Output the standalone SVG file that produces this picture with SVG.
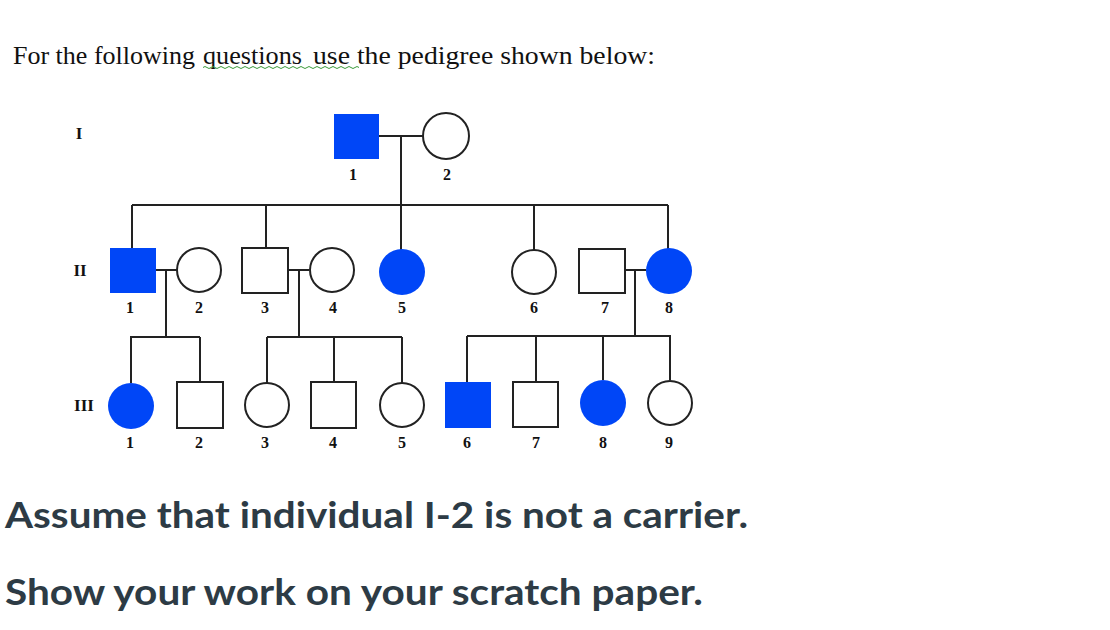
<svg xmlns="http://www.w3.org/2000/svg" width="1110" height="630" viewBox="0 0 1110 630">
<style>
.ln{stroke:#222;stroke-width:2;fill:none}
.aff{fill:#0046f7;stroke:none}
.un{fill:#fff;stroke:#222;stroke-width:2}
.num{font-family:"Liberation Serif",serif;font-weight:bold;font-size:16px;fill:#111;text-anchor:middle}
.gen{font-family:"Liberation Serif",serif;font-weight:bold;font-size:17px;fill:#111;text-anchor:middle}
.t{font-family:"Liberation Serif",serif;font-size:26px;fill:#111}
.q{font-family:Lato,"Liberation Sans",sans-serif;font-weight:bold;font-size:37px;fill:#2d3b45}
</style>
<rect width="1110" height="630" fill="#fff"/>
<text class="t" x="13" y="64" textLength="182" lengthAdjust="spacingAndGlyphs">For the following</text>
<text class="t" x="203" y="64" textLength="99" lengthAdjust="spacingAndGlyphs">questions</text>
<text class="t" x="313" y="64" textLength="342" lengthAdjust="spacingAndGlyphs">use the pedigree shown below:</text>
<path d="M203 67.5 q2 -2 4 0 t4 0 t4 0 t4 0 t4 0 t4 0 t4 0 t4 0 t4 0 t4 0 t4 0 t4 0 t4 0 t4 0 t4 0 t4 0 t4 0 t4 0 t4 0 t4 0 t4 0 t4 0 t4 0 t4 0 t4 0 t4 0 t4 0 t4 0 t4 0 t4 0 t4 0 t4 0 t4 0 t4 0 t4 0 t4 0 t4 0 t4 0 t4 0" stroke="#3a9a3a" stroke-width="1" fill="none"/>
<g id="gen-labels">
<text class="gen" x="79" y="139">I</text>
<text class="gen" x="80" y="276">II</text>
<text class="gen" x="84" y="411">III</text>
</g>
<g id="connectors">
<path class="ln" d="M379 136 H423 M401 136 V205 M132 205 H668 M132 205 V248 M266 205 V248 M401 205 V250 M534 205 V250 M668 205 V249"/>
<path class="ln" d="M156 270 H177 M166 270 V337 M130 337 H200 M131 337 V383 M200 337 V382"/>
<path class="ln" d="M288 270 H309 M299 270 V337 M267 337 H402 M267 337 V383 M334 337 V382 M402 337 V383"/>
<path class="ln" d="M625 270 H646 M635 270 V336 M467 336 H671 M467 336 V382 M536 336 V382 M603 336 V380 M670 336 V380"/>
</g>
<g id="I-1"><rect class="aff" x="334" y="114" width="45" height="45"/><text class="num" x="353" y="180">1</text></g>
<g id="I-2"><circle class="un" cx="446" cy="136" r="23"/><text class="num" x="447" y="180">2</text></g>
<g id="II-1"><rect class="aff" x="110" y="248" width="46" height="45"/><text class="num" x="130" y="313">1</text></g>
<g id="II-2"><circle class="un" cx="199" cy="270" r="22"/><text class="num" x="199" y="313">2</text></g>
<g id="II-3"><rect class="un" x="242" y="248" width="46" height="45"/><text class="num" x="265" y="313">3</text></g>
<g id="II-4"><circle class="un" cx="332" cy="270" r="22"/><text class="num" x="333" y="313">4</text></g>
<g id="II-5"><circle class="aff" cx="402" cy="272" r="23"/><text class="num" x="402" y="313">5</text></g>
<g id="II-6"><circle class="un" cx="534" cy="272" r="22"/><text class="num" x="534" y="313">6</text></g>
<g id="II-7"><rect class="un" x="579" y="249" width="46" height="44"/><text class="num" x="605" y="313">7</text></g>
<g id="II-8"><circle class="aff" cx="669" cy="271" r="23"/><text class="num" x="669" y="313">8</text></g>
<g id="III-1"><circle class="aff" cx="131" cy="406" r="23"/><text class="num" x="130" y="448">1</text></g>
<g id="III-2"><rect class="un" x="177" y="382" width="46" height="46"/><text class="num" x="199" y="448">2</text></g>
<g id="III-3"><circle class="un" cx="267" cy="405" r="22"/><text class="num" x="265" y="448">3</text></g>
<g id="III-4"><rect class="un" x="311" y="382" width="45" height="46"/><text class="num" x="333" y="448">4</text></g>
<g id="III-5"><circle class="un" cx="402" cy="405" r="22"/><text class="num" x="402" y="448">5</text></g>
<g id="III-6"><rect class="aff" x="445" y="382" width="46" height="46"/><text class="num" x="467" y="448">6</text></g>
<g id="III-7"><rect class="un" x="513" y="382" width="45" height="45"/><text class="num" x="536" y="448">7</text></g>
<g id="III-8"><circle class="aff" cx="603" cy="403" r="23"/><text class="num" x="603" y="448">8</text></g>
<g id="III-9"><circle class="un" cx="670" cy="403" r="22"/><text class="num" x="669" y="448">9</text></g>
<text class="q" x="5" y="528" textLength="743" lengthAdjust="spacingAndGlyphs">Assume that individual I-2 is not a carrier.</text>
<text class="q" x="5" y="605" textLength="698" lengthAdjust="spacingAndGlyphs">Show your work on your scratch paper.</text>
</svg>
